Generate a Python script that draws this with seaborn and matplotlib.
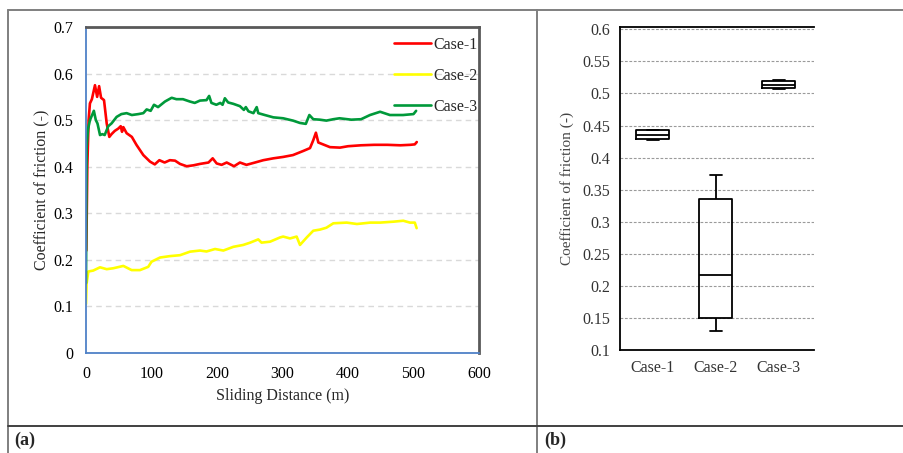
"""
Coefficient of friction vs sliding distance (a) and its spread per case (b).
Two-panel figure laid out as a bordered table, like the paper's figure.
"""

import matplotlib
matplotlib.use("Agg")
import matplotlib.pyplot as plt
import numpy as np
import pandas as pd
import seaborn as sns
from matplotlib.lines import Line2D

OUT_PATH = "out.png"

CASES = ["Case-1", "Case-2", "Case-3"]
COLORS = ["#FF0000", "#FFFF00", "#00993A"]

# (a) friction traces
case1_dist = [0.5, 2, 4, 6, 9, 13.7, 17, 20, 23, 27.5, 31.6, 35.6, 39, 44, 49.4, 53, 55, 57,
              62, 70, 77, 87.5, 97.7, 105, 112, 120, 128, 136, 143.5, 153.7, 164, 174, 187,
              193.4, 199.5, 207, 214.8, 226, 235, 245, 258, 270.7, 286, 301, 316, 332, 342,
              347, 351, 354.7, 360, 372.5, 387.8, 400, 420, 440, 460, 480, 495, 502, 505]
case1_cof = [0.22, 0.40, 0.50, 0.536, 0.545, 0.575, 0.55, 0.573, 0.548, 0.543, 0.493, 0.464,
             0.47, 0.477, 0.482, 0.487, 0.475, 0.485, 0.472, 0.464, 0.447, 0.425, 0.411, 0.405,
             0.414, 0.409, 0.414, 0.413, 0.406, 0.401, 0.403, 0.406, 0.409, 0.418, 0.407, 0.404,
             0.409, 0.401, 0.409, 0.404, 0.409, 0.414, 0.418, 0.421, 0.425, 0.434, 0.44, 0.457,
             0.473, 0.452, 0.449, 0.442, 0.441, 0.444, 0.446, 0.447, 0.447, 0.446, 0.447, 0.448,
             0.453]

case2_dist = [0, 1, 3.6, 11, 21.4, 31.6, 41.8, 57, 69.7, 82.4, 95, 100, 113, 128, 143.5,
              158.8, 174, 184, 197, 209.7, 225, 240, 250.7, 263, 268, 281, 296, 301, 311.5,
              321.6, 326.7, 336.9, 347, 357.3, 367, 377.6, 398, 413.6, 434, 449, 469.7, 484.4,
              494.6, 502, 504.8]
case2_cof = [0.105, 0.15, 0.175, 0.177, 0.184, 0.18, 0.182, 0.187, 0.178, 0.178, 0.185, 0.196,
             0.205, 0.208, 0.21, 0.2176, 0.22, 0.218, 0.2233, 0.22, 0.228, 0.232, 0.237, 0.244,
             0.237, 0.239, 0.248, 0.25, 0.246, 0.25, 0.232, 0.248, 0.2626, 0.265, 0.269, 0.2785,
             0.28, 0.277, 0.28, 0.28, 0.282, 0.284, 0.28, 0.28, 0.268]

case3_dist = [0, 1, 3, 6, 12, 15, 17.5, 21.4, 25, 28.5, 34, 39, 46.8, 54, 62, 70, 80, 87.5,
              92.6, 98.7, 103.8, 110, 120.6, 130.8, 138, 148, 158.5, 166, 174, 184, 188, 191.5,
              199, 205, 208.5, 212, 217, 225, 235, 241, 244, 248, 255.6, 260.6, 263, 273, 286,
              301, 316, 326.6, 335.6, 341, 347, 357, 367, 377.7, 387, 405, 420, 433.6, 449, 464,
              484, 500, 504]
case3_cof = [0.15, 0.443, 0.48, 0.50, 0.52, 0.50, 0.493, 0.468, 0.47, 0.468, 0.487, 0.493,
             0.507, 0.513, 0.515, 0.511, 0.513, 0.515, 0.523, 0.52, 0.533, 0.528, 0.54, 0.548,
             0.545, 0.545, 0.54, 0.537, 0.542, 0.543, 0.552, 0.537, 0.533, 0.537, 0.533, 0.547,
             0.538, 0.535, 0.53, 0.522, 0.528, 0.519, 0.515, 0.528, 0.515, 0.511, 0.506, 0.504,
             0.499, 0.494, 0.492, 0.511, 0.502, 0.501, 0.499, 0.502, 0.504, 0.501, 0.502, 0.511,
             0.518, 0.511, 0.511, 0.513, 0.52]

# (b) box statistics per case: min, Q1, median, Q3, max
box_min = [0.427, 0.129, 0.507]
box_q1 = [0.4287, 0.150, 0.508]
box_med = [0.4355, 0.217, 0.5135]
box_q3 = [0.4428, 0.335, 0.519]
box_max = [0.4428, 0.373, 0.521]

BLUE = "#4F81C7"
DARK = "#595959"
BORDER = "#7F7F7F"


def fig_line(fig, xs, ys, **kw):
    fig.add_artist(Line2D(xs, ys, transform=fig.transFigure, **kw))


def main() -> None:
    sns.set_style("white")
    plt.rcParams["font.family"] = ["Liberation Serif", "DejaVu Serif"]

    traces = pd.concat([
        pd.DataFrame({"dist": d, "cof": c, "case": name})
        for d, c, name in [(case1_dist, case1_cof, CASES[0]),
                           (case2_dist, case2_cof, CASES[1]),
                           (case3_dist, case3_cof, CASES[2])]
    ], ignore_index=True)

    # five-number summaries -> points, percentiles reproduce them exactly
    boxes = pd.DataFrame({
        "case": np.repeat(CASES, 5),
        "cof": np.column_stack([box_min, box_q1, box_med, box_q3, box_max]).ravel(),
    })

    fig = plt.figure(figsize=(9.04, 4.53), dpi=100)
    W, H = 904, 453

    # ---- panel (a)
    ax = fig.add_axes([86 / W, 1 - 353 / H, (479 - 86) / W, (353 - 27) / H])
    sns.lineplot(data=traces, x="dist", y="cof", hue="case", palette=COLORS,
                 estimator=None, sort=False, linewidth=1.9, ax=ax)
    ax.set_xlim(0, 600)
    ax.set_ylim(0, 0.7)
    ax.set_xticks(np.arange(0, 601, 100))
    ax.set_yticks(np.arange(0, 0.71, 0.1))
    ax.set_yticklabels([f"{v:g}" for v in np.round(np.arange(0, 0.71, 0.1), 1)])
    ax.yaxis.grid(True, color="#D9D9D9", linestyle=(0, (4, 3)), linewidth=1.0)
    ax.set_axisbelow(True)
    for side in ["left", "bottom"]:
        ax.spines[side].set_color(BLUE)
        ax.spines[side].set_linewidth(1.3)
    for side in ["top", "right"]:
        ax.spines[side].set_color(DARK)
        ax.spines[side].set_linewidth(2.0)
    ax.tick_params(axis="both", direction="out", length=4, width=1.2, color=BLUE,
                   labelsize=11.5, labelcolor="black", pad=5)
    ax.set_xlabel("Sliding Distance (m)", fontsize=11.5, labelpad=5)
    ax.set_ylabel("Coefficient of friction (-)", fontsize=11.5, labelpad=2)
    ax.legend(loc="upper right", bbox_to_anchor=(1.02, 1.0), frameon=False,
              fontsize=11.5, handlelength=2.3, handletextpad=0.15, labelspacing=0.95,
              borderaxespad=0.2)

    # ---- panel (b)
    bx = fig.add_axes([620 / W, 1 - 350 / H, (814 - 620) / W, (350 - 27) / H])
    sns.boxplot(data=boxes, x="case", y="cof", order=CASES, whis=(0, 100), width=0.52,
                fill=False, color="black", linecolor="black", linewidth=1.3,
                showfliers=False, capwidths=0.19, ax=bx)
    bx.set_xlim(-0.52, 2.56)
    bx.set_ylim(0.1, 0.6036)
    yt = np.round(np.arange(0.1, 0.601, 0.05), 2)
    bx.set_yticks(yt)
    bx.set_yticklabels([f"{v:g}" for v in yt])
    bx.yaxis.grid(True, color="#9A9A9A", linestyle=(0, (2.5, 1.5)), linewidth=0.8)
    bx.set_axisbelow(True)
    for side in ["left", "bottom", "top"]:
        bx.spines[side].set_color("black")
        bx.spines[side].set_linewidth(1.3)
    bx.spines["right"].set_visible(False)
    bx.tick_params(axis="both", length=0, labelsize=11.5, labelcolor="#333333", pad=7)
    bx.set_xlabel("")
    bx.set_ylabel("Coefficient of friction (-)", fontsize=11, color="#444444", labelpad=6)

    # ---- table frame around the panels
    kw = dict(color=BORDER, linewidth=1.4)
    fig_line(fig, [7.5 / W, 7.5 / W], [0, 1 - 9.5 / H], **kw)
    fig_line(fig, [7.5 / W, 1], [1 - 9.5 / H, 1 - 9.5 / H], **kw)
    fig_line(fig, [537 / W, 537 / W], [0, 1 - 9.5 / H], **kw)
    fig_line(fig, [7.5 / W, 1], [1 - 426 / H, 1 - 426 / H], color="#404040", linewidth=1.4)
    fig.text(14 / W, 1 - 440 / H, "(a)", fontsize=13, fontweight="bold", va="center")
    fig.text(544 / W, 1 - 440 / H, "(b)", fontsize=13, fontweight="bold", va="center")

    fig.savefig(OUT_PATH, dpi=100, facecolor="white")
    plt.close(fig)
    print(f"wrote {OUT_PATH}")


if __name__ == "__main__":
    main()
